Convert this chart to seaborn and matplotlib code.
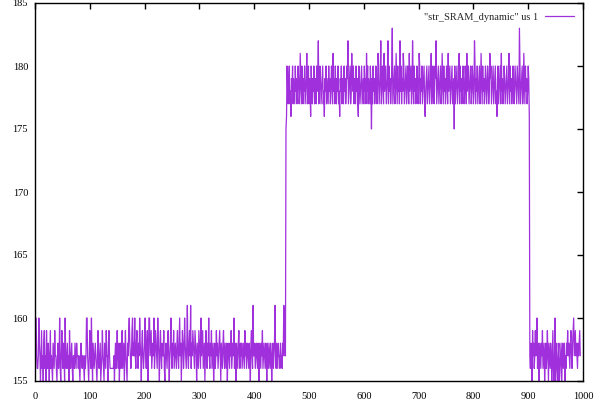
import numpy as np
import pandas as pd
import seaborn as sns
import matplotlib
matplotlib.use("Agg")
import matplotlib.pyplot as plt

low_start = [
159,160,160,157,156,156,157,160,158,157,155,157,159,156,157,155,158,159,156,157,
155,159,157,156,158,157,155,157,159,156,157,156,155,158,157,156,159,157,157,156,
155,157,158,156,157,160,156,155,157,159,157,156,158,157,155,160,157,156,157,158,
156,157,155,159,157,156,157,158,156,155,157,157,156,158,157,156,158,157,157,156,
157,156,155,157,158,157,156,157,157,156,155,157,156,157,160,160,157,156,155,157,
159,157,156,160,157,155,158,157,156,157,158,157,156,155,157,159,157,156,157,158,
155,156,157,159,157,156,155,158,157,156,159,157,157,155,158,159,157,156,156,156,
156,156,156,156,157,155,157,158,156,157,159,157,156,158,155,157,158,156,157,159,
156,157,158,155,157,159,157,156,155,158,157,159,160,158,157,156,157,159,160,157,
158,157,160,157,156,158,159,157,156,158,157,160,158,157,155,158,159,157,156,157,
158,160,157,156,158,159,155,157,160,160,157,158,159,156,157,158,157,160,156,157,
159,158,157,156,160,158,157,155,158,159,157,156,158,157,157,159,156,155,157,158,
157,156,158,159,157,155,157,158,160,157,156,158,157,159,156,157,158,157,156,158,
159,157,156,158,160,157,158,155,157,159,158,156,157,160,158,157,156,158,161,157,
156,158,159,157,161,156,158,157,159,158,157,156,159,158,157,155,158,157,156,159,
158,157,156,160,157,158,159,156,157,158,155,157,159,157,156,158,157,160,157,156,
158,157,159,156,157,158,155,157,158,156,157,159,157,158,156,157,158,159,157,155,
158,157,156,158,159,157,156,158,157,156,158,155,157,158,157,156,158,157,159,156,
157,158,157,160,156,158,157,155,158,157,156,158,159,157,156,158,157,158,156,157,
158,157,156,159,157,158,156,157,158,157,156,158,157,155,158,159,157,156,161,157,
157,158,156,157,158,157,156,158,157,155,158,157,156,158,157,159,156,157,158,157,
156,158,157,155,158,157,156,158,157,156,158,157,155,157,158,156,157,158,161,157,
156,158,157,156,158,157,157,156,158,157,157,156,158,157,161,160,157,157,
]

high_phase = [
175,176,180,178,177,179,180,177,178,176,179,178,180,177,179,178,177,180,178,179,
177,178,180,179,177,178,181,179,177,180,178,177,179,178,180,177,178,179,181,177,
178,180,177,179,178,176,180,178,177,179,178,180,177,178,179,177,180,178,179,182,
177,178,180,179,177,178,179,180,177,178,176,179,178,180,177,179,178,177,180,178,
179,177,178,180,179,177,181,178,179,177,180,178,177,179,178,180,177,178,176,179,
178,180,177,179,178,177,180,178,179,177,178,180,179,182,177,178,179,180,177,178,
181,179,178,180,177,179,178,177,180,178,179,177,176,180,179,177,178,179,180,177,
178,179,177,180,178,179,177,181,178,180,177,179,178,177,180,178,175,179,177,180,
178,179,177,178,180,179,177,178,181,180,177,178,179,182,177,178,180,179,177,181,
178,179,180,177,178,179,182,177,180,178,179,177,178,180,183,177,178,179,180,177,
178,181,179,177,180,178,179,177,182,178,180,177,179,178,181,180,177,178,179,180,
177,178,180,179,177,181,178,179,180,177,178,182,179,177,180,178,179,177,178,180,
179,177,178,181,180,177,179,178,180,177,178,179,180,177,176,178,179,180,177,178,
179,180,177,178,179,181,177,178,180,179,177,178,180,179,182,177,178,179,180,177,
178,179,180,177,178,181,179,177,180,178,179,177,178,180,179,177,181,178,179,180,
177,178,179,180,177,178,179,175,180,177,178,179,180,177,178,179,181,177,180,178,
179,177,178,180,179,177,178,180,179,177,181,178,179,180,177,178,179,180,177,178,
180,179,177,178,182,180,177,179,178,180,177,178,179,180,177,178,181,179,177,180,
178,179,177,178,180,179,177,178,180,179,177,178,181,179,180,177,178,179,180,177,
178,179,180,177,178,176,179,180,177,178,179,180,177,181,178,179,177,178,180,179,
177,178,179,180,177,178,179,181,177,180,178,179,177,178,180,179,177,178,180,179,
178,177,180,179,178,177,183,180,177,178,179,180,177,178,181,179,177,180,178,179,
177,178,180,179,176,
]

low_end = [
157,156,158,157,155,159,157,158,156,157,159,157,158,160,156,158,157,155,158,157,
156,158,157,159,156,157,158,155,157,158,156,157,159,157,155,158,157,156,158,157,
155,157,159,156,155,157,160,155,157,158,156,155,157,158,155,156,157,158,155,157,
158,156,157,158,155,157,156,158,157,159,157,158,157,156,158,159,157,156,158,159,
160,157,158,159,157,158,157,156,158,157,158,159,157,
]

x_ticks = [0, 100, 200, 300, 400, 500, 600, 700, 800, 900, 1000]
y_ticks = [155, 160, 165, 170, 175, 180, 185]
series_label = '"str_SRAM_dynamic" us 1'

values = low_start + high_phase + low_end
df = pd.DataFrame({"x": np.arange(len(values)), "y": values})

sns.set_style("white")
plt.rcParams["font.family"] = ["Liberation Serif", "DejaVu Serif"]

fig = plt.figure(figsize=(6.06, 4.05), dpi=100)
ax = fig.add_axes([35/606, 24/405, 548/606, 378/405])

sns.lineplot(data=df, x="x", y="y", ax=ax, color="#a030dc", lw=0.9,
             estimator=None, label=series_label)

ax.set_xlim(0, 1000)
ax.set_ylim(155, 185)
ax.set_xticks(x_ticks)
ax.set_yticks(y_ticks)
ax.set_xlabel("")
ax.set_ylabel("")
ax.tick_params(direction="in", length=4.5, width=1, labelsize=7.5,
               top=True, right=True, colors="black")
ax.tick_params(axis="x", pad=8)
ax.tick_params(axis="y", pad=5)
for s in ax.spines.values():
    s.set_visible(True)
    s.set_color("black")
    s.set_linewidth(1)

leg = ax.legend(loc="upper right", frameon=False, markerfirst=False,
                fontsize=7.5, handlelength=2.7, borderaxespad=0.5,
                handletextpad=0.7)

fig.savefig("out.png", dpi=100)
